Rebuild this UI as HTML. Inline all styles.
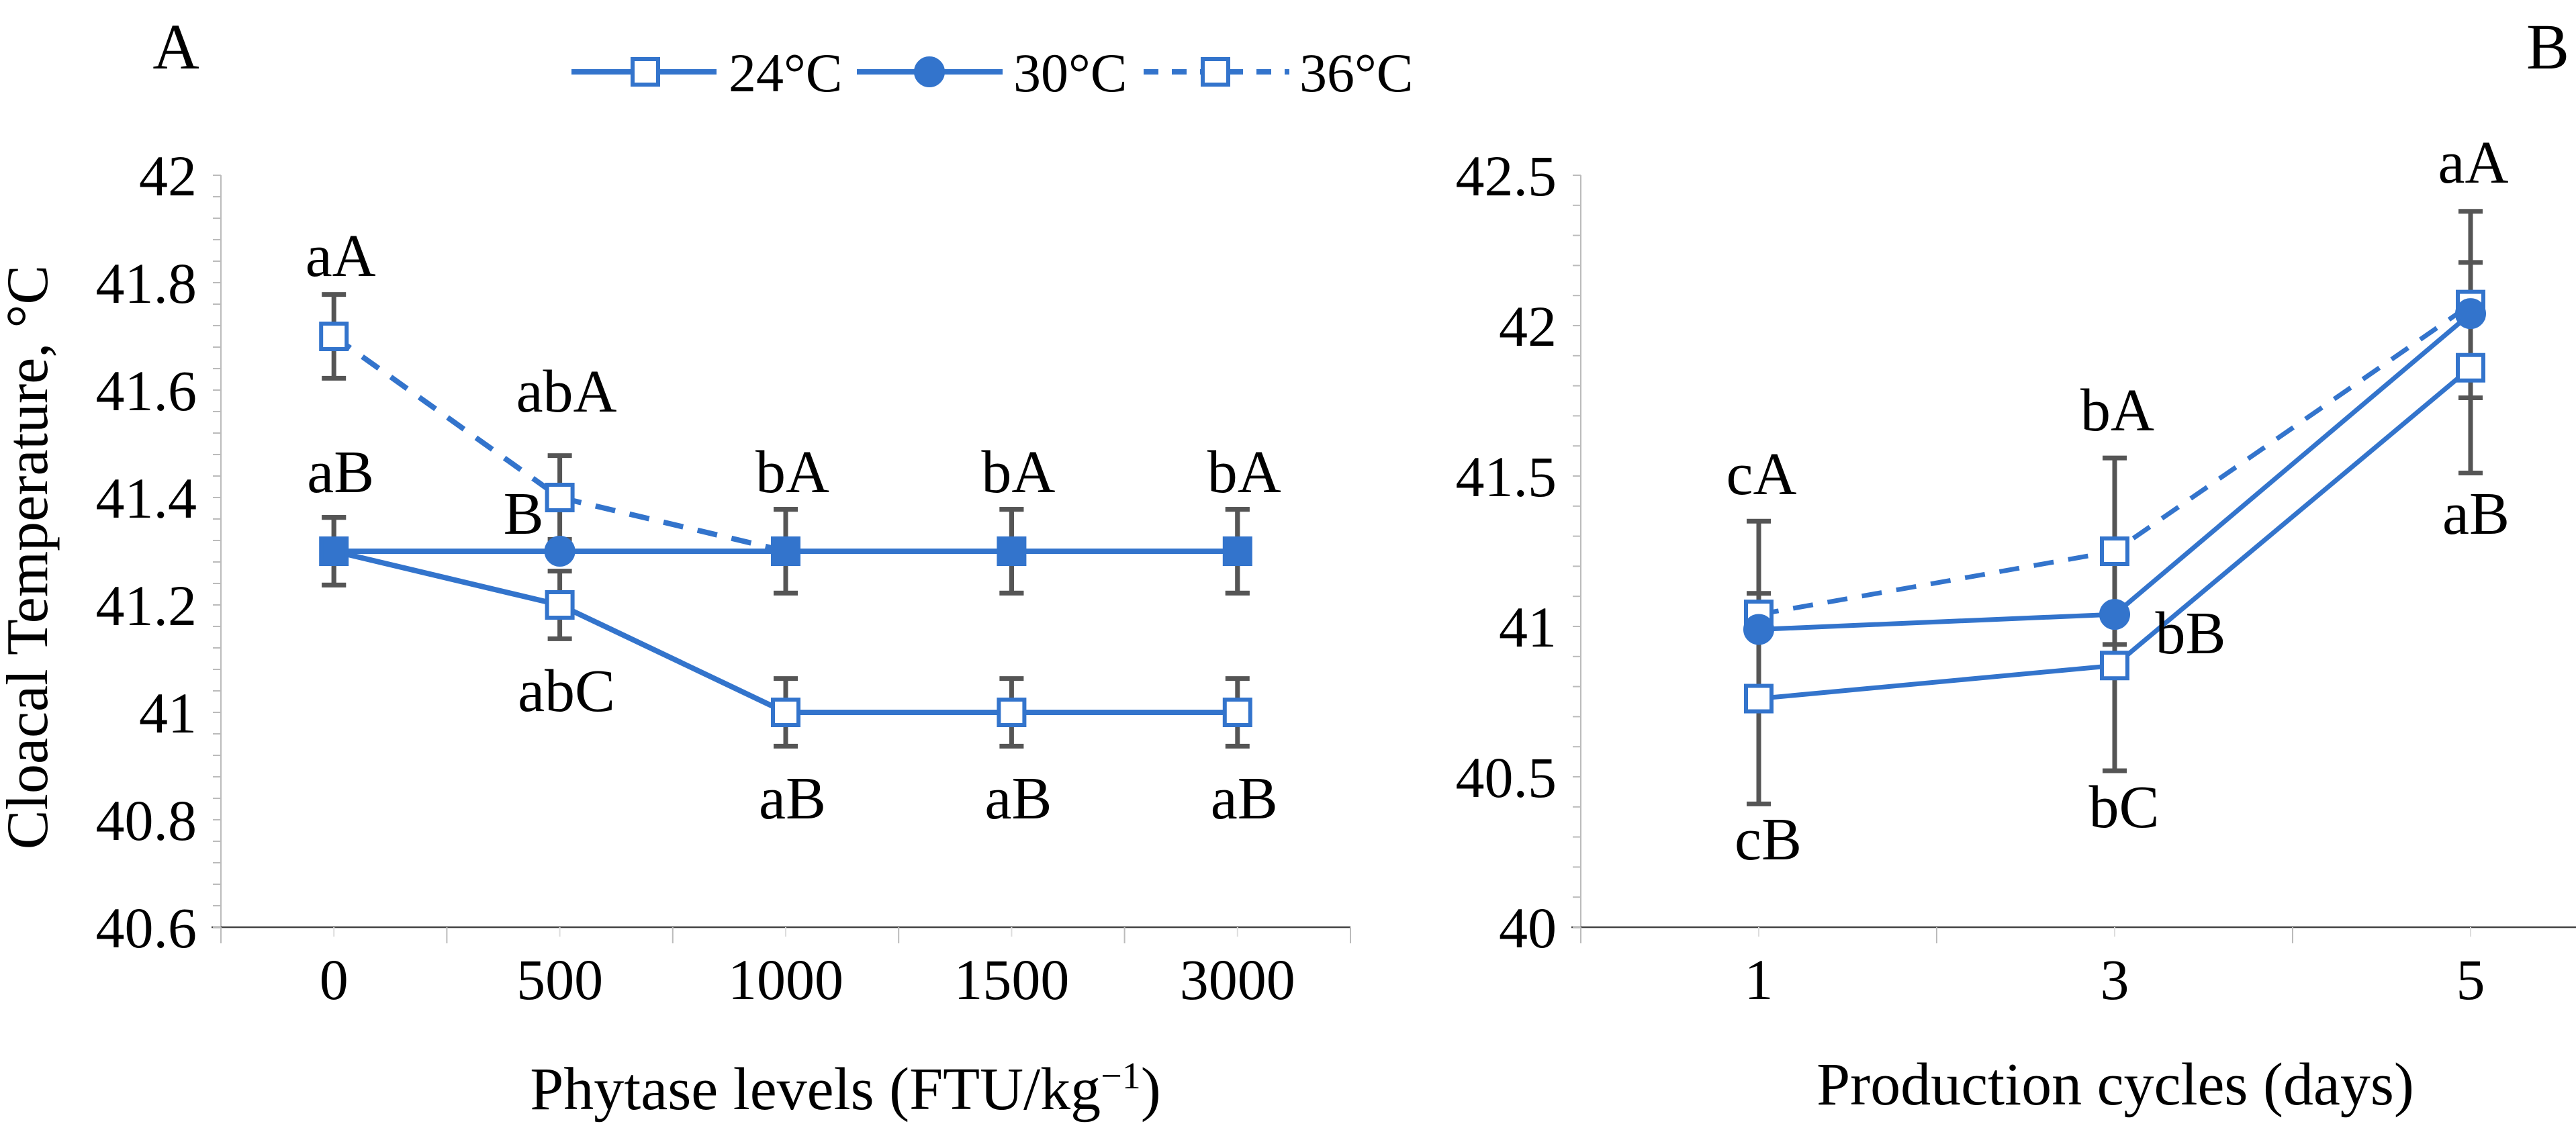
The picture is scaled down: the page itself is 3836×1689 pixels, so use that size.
<!DOCTYPE html>
<html><head><meta charset="utf-8"><style>
html,body{margin:0;padding:0;background:#fff;}
svg{display:block;font-family:"Liberation Serif","DejaVu Serif",serif;}
text{font-family:"Liberation Serif","DejaVu Serif",serif;}
</style></head><body>
<svg id="chart" width="3836" height="1689" viewBox="0 0 3836 1689" xmlns="http://www.w3.org/2000/svg">
<text x="262" y="102" font-size="96" text-anchor="middle">A</text>
<text x="3794" y="102" font-size="96" text-anchor="middle">B</text>
<g id="legend"></g>
<g id="pa"></g>
<g id="pb"></g>
<text transform="translate(70,830) rotate(-90)" font-size="88" text-anchor="middle">Cloacal Temperature, °C</text>
<text x="1259" y="1652" font-size="90" text-anchor="middle">Phytase levels (FTU/kg<tspan baseline-shift="super" font-size="56">−1</tspan>)</text>
<text x="3150" y="1645" font-size="90" text-anchor="middle">Production cycles (days)</text>
</svg>
<script>
const NS="http://www.w3.org/2000/svg";
const BLUE="#3374cc", GREY="#555";
// Panel A data
const catsA=["0","500","1000","1500","3000"];
const a24=[41.3,41.2,41.0,41.0,41.0];
const a30=[41.3,41.3,41.3,41.3,41.3];
const a36=[41.7,41.4,41.3,41.3,41.3];
const e24A=[0.063,0.063,0.063,0.063,0.063];
const e30A=[0.063,0,0.078,0.078,0.078];
const e36A=[0.078,0.078,0.078,0.078,0.078];
const ticksA=[40.6,40.8,41,41.2,41.4,41.6,41.8,42];
const labsA=[["aA",0,41.7,"above2"],["aB",0,41.3,"above"],["abA",1,41.4,"above2"],["B",1,41.3,"leftabove"],["abC",1,41.2,"below"],["bA",2,41.3,"above"],["bA",3,41.3,"above"],["bA",4,41.3,"above"],["aB",2,41.0,"below"],["aB",3,41.0,"below"],["aB",4,41.0,"below"]];
// Panel B data
const catsB=["1","3","5"];
const b24=[40.76,40.87,41.86];
const b30=[40.99,41.04,42.04];
const b36=[41.04,41.25,42.07];
const e24B=[0.35,0.35,0.35];
const e36B=[0.31,0.31,0.31];
const ticksB=[40,40.5,41,41.5,42,42.5];
const labsB=[["cA",0,706],["cB",0,1250],["bA",1,611],["bB",1.2,943],["bC",1,1202],["aA",2,242],["aB",2,765]];

function el(tag,attrs,parent){const e=document.createElementNS(NS,tag);for(const k in attrs)e.setAttribute(k,attrs[k]);parent.appendChild(e);return e;}

const TOP=261, BOT=1381;
const ax0=329, ax1=2011;
const yA=v=>TOP+(42-v)*(BOT-TOP)/1.4;
const xA=i=>ax0+(i+0.5)*(ax1-ax0)/catsA.length;
const bx0=2354, bx1=3944;
const yB=v=>TOP+(42.5-v)*(BOT-TOP)/2.5;
const xB=i=>bx0+(i+0.5)*(bx1-bx0)/catsB.length;

function axes(g,x0,x1,ticks,yf,cats,xf,minorStep,pre){
  let l=el('line',{x1:x0,y1:TOP,x2:x0,y2:BOT,stroke:"#bbb","stroke-width":2},g);
  
  l=el('line',{x1:x0-14,y1:BOT,x2:x1,y2:BOT,stroke:"#444","stroke-width":2.5},g);
  
  const lo=ticks[0],hi=ticks[ticks.length-1];
  for(let v=lo;v<=hi+1e-9;v+=minorStep){
    el('line',{x1:x0-12,y1:yf(v),x2:x0,y2:yf(v),stroke:"#bbb","stroke-width":2},g);
  }
  ticks.forEach(t=>{
    const tx=el('text',{x:x0-36,y:yf(t)+30,"font-size":86,"text-anchor":"end"},g);
    tx.textContent=String(t);
    
    
  });
  const w=(x1-x0)/cats.length;
  for(let i=0;i<=cats.length;i++){
    el('line',{x1:x0+i*w,y1:BOT,x2:x0+i*w,y2:BOT+24,stroke:"#bbb","stroke-width":2},g);
  }
  cats.forEach((c,i)=>{
    el('line',{x1:xf(i),y1:BOT,x2:xf(i),y2:BOT+14,stroke:"#ddd","stroke-width":2},g);
    const tx=el('text',{x:xf(i),y:1488,"font-size":86,"text-anchor":"middle"},g);
    tx.textContent=c;
    
    
  });
}
function errbar(g,x,v,e,yf,name){
  if(!e)return;
  const gg=el('g',{stroke:GREY,"stroke-width":7},g);
  
  
  el('line',{x1:x,y1:yf(v+e),x2:x,y2:yf(v-e)},gg);
  el('line',{x1:x-18,y1:yf(v+e),x2:x+18,y2:yf(v+e)},gg);
  el('line',{x1:x-18,y1:yf(v-e),x2:x+18,y2:yf(v-e)},gg);
}
function line(g,vals,xf,yf,dash,w,name){
  const p=el('polyline',{points:vals.map((v,i)=>xf(i)+","+yf(v)).join(" "),fill:"none",stroke:BLUE,"stroke-width":w},g);
  if(dash)p.setAttribute('stroke-dasharray',dash);
  
  
}
function sq(g,x,y,s,filled,name){
  const r=el('rect',{x:x-s/2,y:y-s/2,width:s,height:s,fill:filled?BLUE:"#fff",stroke:BLUE,"stroke-width":6},g);
  
  
}
function circ(g,x,y,r,name){
  const c=el('circle',{cx:x,cy:y,r:r,fill:BLUE,stroke:BLUE,"stroke-width":2},g);
  
  
}

// Panel A
const pa=document.getElementById('pa');
axes(pa,ax0,ax1,ticksA,yA,catsA,xA,0.04,'panel-a');
catsA.forEach((c,i)=>{errbar(pa,xA(i),a36[i],e36A[i],yA,'error-bar-36c');errbar(pa,xA(i),a30[i],e30A[i],yA,'error-bar-30c');errbar(pa,xA(i),a24[i],e24A[i],yA,'error-bar-24c');});
line(pa,a36,xA,yA,"30,22",8,'line-36c');
line(pa,a24,xA,yA,null,8,'line-24c');
line(pa,a30,xA,yA,null,8,'line-30c');
catsA.forEach((c,i)=>{
  sq(pa,xA(i),yA(a24[i]),38,a24[i]===a30[i],'marker-24c');
  sq(pa,xA(i),yA(a36[i]),38,a36[i]===a30[i],'marker-36c');
  if(a30[i]!==a24[i]&&a30[i]!==a36[i])circ(pa,xA(i),yA(a30[i]),22,'marker-30c');
});
labsA.forEach(([t,i,v,pos])=>{
  let x=xA(i),y;
  if(pos==="above2")y=yA(v)-128;
  else if(pos==="above")y=yA(v)-88;
  else if(pos==="below")y=yA(v)+158;
  else {x=xA(i)-64;y=yA(v)-26;}
  if(t==="aA")y=yA(v)-90;
  const tx=el('text',{x:x+10,y:y,"font-size":90,"text-anchor":"middle"},pa);
  tx.textContent=t;
  
  
});

// Panel B
const pb=document.getElementById('pb');
axes(pb,bx0,bx1,ticksB,yB,catsB,xB,0.1,'panel-b');
catsB.forEach((c,i)=>{errbar(pb,xB(i),b24[i],e24B[i],yB,'error-bar-24c');errbar(pb,xB(i),b36[i],e36B[i],yB,'error-bar-36c');});
line(pb,b36,xB,yB,"30,22",7,'line-36c');
line(pb,b30,xB,yB,null,7,'line-30c');
line(pb,b24,xB,yB,null,7,'line-24c');
catsB.forEach((c,i)=>{
  sq(pb,xB(i),yB(b36[i]),38,false,'marker-36c');
  circ(pb,xB(i),yB(b30[i]),22,'marker-30c');
  sq(pb,xB(i),yB(b24[i]),38,false,'marker-24c');
});
labsB.forEach(([t,i,y])=>{
  const x=i===1.2?3262:xB(i)+(t==="cB"?14:(t==="bC"?14:(t==="aB"?8:4)));
  const tx=el('text',{x:x,y:y+30,"font-size":90,"text-anchor":"middle"},pb);
  tx.textContent=t;
  
  
});

// Legend
const lg=document.getElementById('legend');
const legItems=[["24°C",851,1067,961,1085,"sq",null],["30°C",1276,1493,1384,1509,"circ",null],["36°C",1703,1920,1810,1935,"sq","30,22"]];
legItems.forEach(([t,l0,l1,m,tx,mk,d])=>{
  const g=el('g',{},lg);
  
  
  const ln=el('line',{x1:l0,y1:107,x2:l1,y2:107,stroke:BLUE,"stroke-width":8},g);
  if(d)ln.setAttribute('stroke-dasharray',"22,20");
  if(mk==="sq")sq(g,m,107,38,false,'legend-marker');else circ(g,m,107,22,'legend-marker');
  const te=el('text',{x:tx,y:136,"font-size":82},g);
  te.textContent=t;
  
  
});
</script>
</body></html>
